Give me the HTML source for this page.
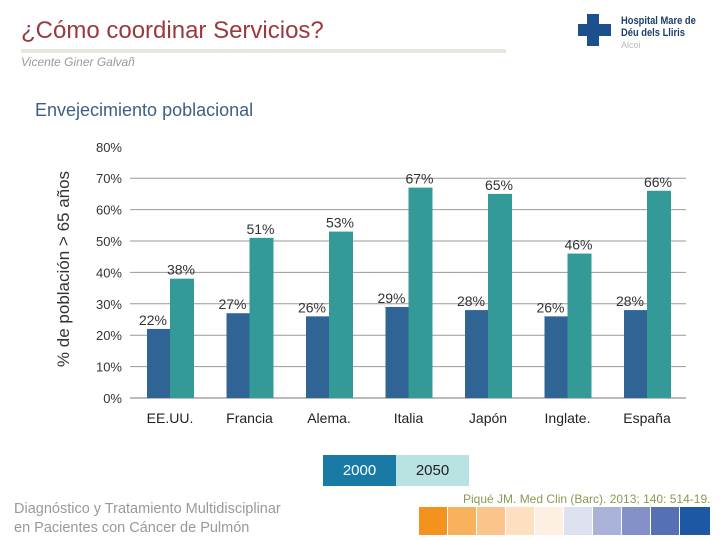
<!DOCTYPE html>
<html><head><meta charset="utf-8"><style>
body{margin:0;width:720px;height:540px;background:#fff;position:relative;overflow:hidden;font-family:"Liberation Sans",sans-serif}
.a{position:absolute}
</style></head><body>
<div class="a" style="left:21px;top:17px;font-size:24px;color:#9b3a3e">¿Cómo coordinar Servicios?</div>
<div class="a" style="left:21px;top:49px;width:485px;height:4px;background:#e8e6df"></div>
<div class="a" style="left:21px;top:55px;font-size:12px;font-style:italic;color:#999">Vicente Giner Galvañ</div>
<div class="a" style="left:578px;top:14px;width:135px;height:40px">
 <div class="a" style="left:9px;top:0;width:12px;height:32px;background:#1c4f8e"></div>
 <div class="a" style="left:0;top:10px;width:33px;height:12px;background:#1c4f8e"></div>
 <div class="a" style="left:43px;top:1px;font-size:11px;font-weight:bold;color:#1c3f6e;line-height:12px;transform:scaleX(.85);transform-origin:left">Hospital Mare de<br>Déu dels Lliris</div>
 <div class="a" style="left:43px;top:26px;font-size:9px;color:#bbb">Alcoi</div>
</div>
<div class="a" style="left:35px;top:100px;font-size:18px;color:#3d5f85">Envejecimiento poblacional</div>
<svg class="a" style="left:0;top:0" width="720" height="540">
<text transform="translate(69,269) rotate(-90)" text-anchor="middle" font-size="17" fill="#333">% de población &gt; 65 años</text>
<g id="g"></g>
</svg>
<div class="a" style="left:323px;top:455px;width:73px;height:31px;background:#1a7aa6;color:#fff;font-size:15px;line-height:31px;text-align:center">2000</div>
<div class="a" style="left:396px;top:455px;width:73px;height:31px;background:#b9e3e3;color:#222;font-size:15px;line-height:31px;text-align:center">2050</div>
<div class="a" style="left:463px;top:492px;font-size:12px;color:#8a9a50">Piqué JM. Med Clin (Barc). 2013; 140: 514-19.</div>
<div class="a" style="left:14px;top:500px;font-size:14.5px;color:#999;line-height:19px">Diagnóstico y Tratamiento Multidisciplinar<br>en Pacientes con Cáncer de Pulmón</div>
<div class="a" style="left:419px;top:507px;height:28px;display:flex;gap:1px">
<div style="width:28px;background:#f4921e"></div><div style="width:28px;background:#f8b25e"></div><div style="width:28px;background:#fbc48a"></div><div style="width:28px;background:#fde0c0"></div><div style="width:28px;background:#fdf0e2"></div><div style="width:28px;background:#dde1f0"></div><div style="width:28px;background:#a9b3da"></div><div style="width:28px;background:#8391c8"></div><div style="width:28px;background:#5571b3"></div><div style="width:30px;background:#1c58a4"></div>
</div>
<script>
const categories=["EE.UU.","Francia","Alema.","Italia","Japón","Inglate.","España"];
const v2000=[22,27,26,29,28,26,28];
const v2050=[38,51,53,67,65,46,66];
const ticks=[0,10,20,30,40,50,60,70,80];
const NS="http://www.w3.org/2000/svg",g=document.getElementById('g');
const y=v=>398-v*3.14, x0=147, step=79.5, bw=23;
function el(t,a,txt){const e=document.createElementNS(NS,t);for(const k in a)e.setAttribute(k,a[k]);if(txt!=null)e.textContent=txt;g.appendChild(e);return e;}
ticks.forEach(t=>{
 if(t>0&&t<80){const l=el('line',{x1:130,x2:686,y1:y(t),y2:y(t),stroke:'#999','stroke-width':1});
 
 }
 const tx=el('text',{x:122,y:y(t)+5,'text-anchor':'end','font-size':13,fill:'#333'},t+'%');
 
 
});
const base=el('line',{x1:130,x2:686,y1:398,y2:398,stroke:'#bbb','stroke-width':2});


categories.forEach((c,i)=>{
 const x=x0+i*step;
 const b1=el('rect',{x:x,y:y(v2000[i]),width:bw,height:398-y(v2000[i]),fill:'#2f6494'});
 
 
 const b2=el('rect',{x:x+bw,y:y(v2050[i]),width:bw+1,height:398-y(v2050[i]),fill:'#339a97'});
 
 
 const l1=el('text',{x:x+6,y:y(v2000[i])-4,'text-anchor':'middle','font-size':14,fill:'#333'},v2000[i]+'%');
 
 
 const l2=el('text',{x:x+bw+11,y:y(v2050[i])-4,'text-anchor':'middle','font-size':14,fill:'#333'},v2050[i]+'%');
 
 
 const cl=el('text',{x:x+bw,y:423,'text-anchor':'middle','font-size':14,fill:'#222'},c);
 
 
});
</script>
</body></html>
